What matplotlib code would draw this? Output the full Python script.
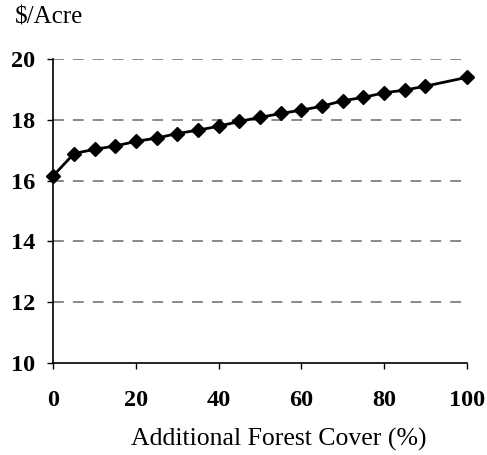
import matplotlib
matplotlib.use("Agg")
import matplotlib.pyplot as plt

# ── DATA ───────────────────────────────────────────────────────────────────────
forest_cover = [0, 5, 10, 15, 20, 25, 30, 35, 40, 45, 50,
                55, 60, 65, 70, 75, 80, 85, 90, 100]
value_per_acre = [16.16, 16.89, 17.03, 17.14, 17.29, 17.40, 17.55, 17.66,
                  17.79, 17.95, 18.08, 18.21, 18.32, 18.45, 18.63, 18.74,
                  18.89, 18.98, 19.11, 19.40]
x_ticks = [0, 20, 40, 60, 80, 100]
y_ticks = [10, 12, 14, 16, 18, 20]

SERIF = ["Liberation Serif", "DejaVu Serif"]
plt.rcParams["font.family"] = SERIF

fig = plt.figure(figsize=(4.87, 4.55), dpi=100, facecolor="white")
ax = fig.add_axes([0.1095, 0.203, 0.849, 0.667])

# gridlines
for yv in y_ticks[1:]:
    ax.axhline(yv, color="#808080", linewidth=1.3, linestyle=(0, (6, 5)), zorder=1)

ax.plot(forest_cover, value_per_acre, color="black", linewidth=2.0,
        marker="D", markersize=7, markerfacecolor="black",
        markeredgecolor="black", zorder=3, clip_on=False)

ax.set_xlim(0, 100)
ax.set_ylim(10, 20)
ax.set_xticks(x_ticks)
ax.set_yticks(y_ticks)

for s in ["top", "right"]:
    ax.spines[s].set_visible(False)
for s in ["left", "bottom"]:
    ax.spines[s].set_color("black")
    ax.spines[s].set_linewidth(1.2)

ax.tick_params(axis="both", direction="out", length=4, width=1.0, colors="black")
ax.tick_params(axis="y", pad=9)
ax.tick_params(axis="x", pad=16)
for lbl in ax.get_xticklabels() + ax.get_yticklabels():
    lbl.set_fontsize(17.5)
    lbl.set_fontweight("bold")

ax.set_xlabel("Additional Forest Cover (%)", fontsize=18.5)
ax.xaxis.set_label_coords(0.544, -0.215)
fig.text(0.031, 0.962, "$/Acre", fontsize=18, ha="left", va="center")

fig.savefig("out.png", dpi=100, facecolor="white")
